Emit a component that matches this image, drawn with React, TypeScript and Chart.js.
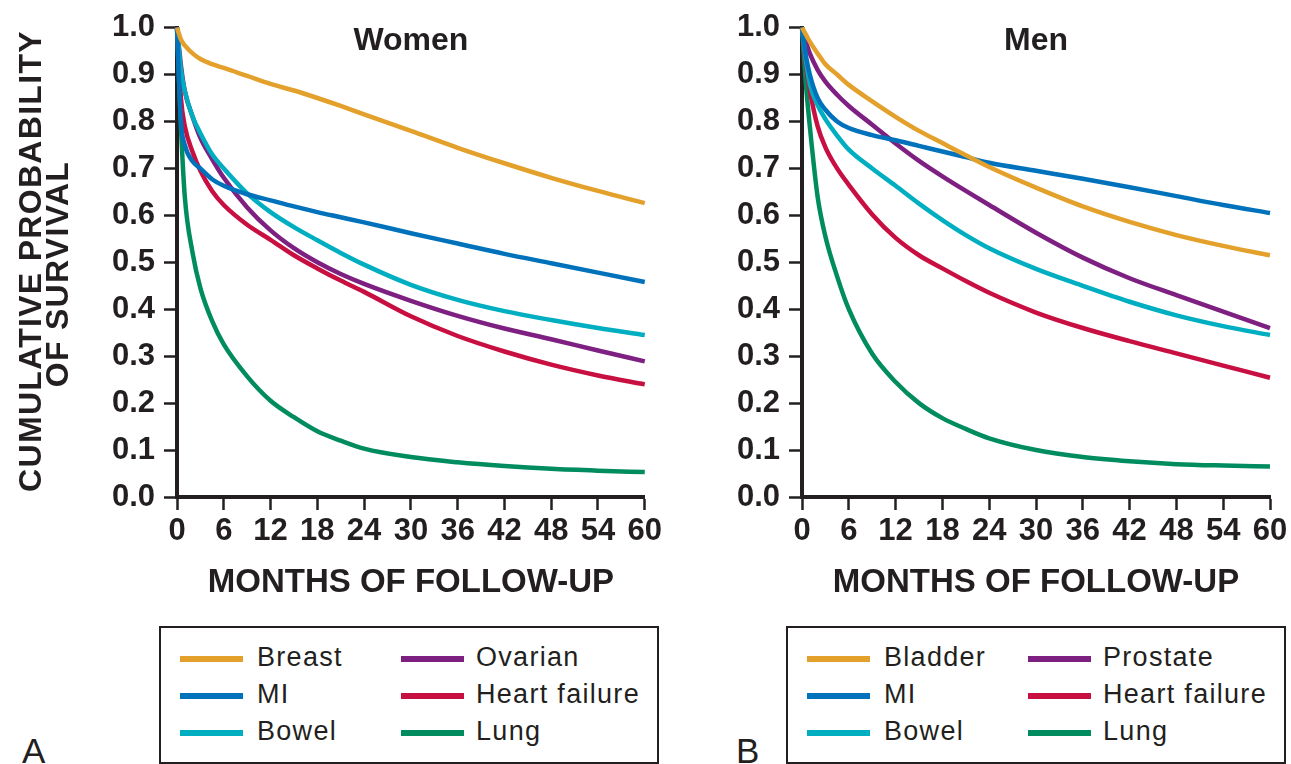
import React, { useEffect, useRef } from "react";
import { Chart, registerables } from "chart.js";

Chart.register(...registerables);

// ---------- data ----------
const months = [0, 0.5, 1, 2, 3, 4.5, 6, 9, 12, 15, 18, 21, 24, 30, 36, 42, 48, 54, 60];
const xTicks = [0, 6, 12, 18, 24, 30, 36, 42, 48, 54, 60];
const yTicks = [0, 0.1, 0.2, 0.3, 0.4, 0.5, 0.6, 0.7, 0.8, 0.9, 1.0];

// Women
const breastW = [1.0, 0.975, 0.962, 0.945, 0.933, 0.922, 0.914, 0.897, 0.88, 0.866, 0.85, 0.833, 0.815, 0.78, 0.744, 0.711, 0.68, 0.652, 0.626];
const miW = [1.0, 0.8, 0.75, 0.715, 0.7, 0.677, 0.663, 0.645, 0.632, 0.619, 0.607, 0.596, 0.585, 0.562, 0.54, 0.518, 0.498, 0.478, 0.458];
const bowelW = [1.0, 0.91, 0.865, 0.81, 0.775, 0.73, 0.7, 0.647, 0.607, 0.575, 0.547, 0.52, 0.495, 0.452, 0.42, 0.396, 0.377, 0.36, 0.345];
const ovarianW = [1.0, 0.92, 0.865, 0.81, 0.765, 0.72, 0.68, 0.617, 0.568, 0.53, 0.5, 0.475, 0.454, 0.418, 0.386, 0.359, 0.336, 0.312, 0.289];
const heartFailureW = [1.0, 0.85, 0.79, 0.735, 0.695, 0.652, 0.622, 0.58, 0.548, 0.515, 0.487, 0.461, 0.437, 0.385, 0.343, 0.31, 0.282, 0.259, 0.24];
const lungW = [1.0, 0.79, 0.64, 0.52, 0.445, 0.375, 0.325, 0.257, 0.205, 0.17, 0.14, 0.12, 0.103, 0.085, 0.074, 0.066, 0.06, 0.056, 0.053];

// Men
const bladderM = [1.0, 0.985, 0.97, 0.945, 0.922, 0.9, 0.878, 0.843, 0.81, 0.78, 0.754, 0.728, 0.703, 0.659, 0.619, 0.586, 0.558, 0.535, 0.515];
const miM = [1.0, 0.94, 0.9, 0.85, 0.825, 0.8, 0.786, 0.771, 0.76, 0.748, 0.736, 0.724, 0.712, 0.695, 0.678, 0.66, 0.641, 0.622, 0.605];
const bowelM = [1.0, 0.93, 0.88, 0.835, 0.805, 0.77, 0.74, 0.7, 0.663, 0.625, 0.59, 0.558, 0.53, 0.486, 0.45, 0.416, 0.387, 0.364, 0.345];
const prostateM = [1.0, 0.97, 0.945, 0.91, 0.885, 0.857, 0.833, 0.793, 0.753, 0.716, 0.683, 0.652, 0.622, 0.563, 0.51, 0.466, 0.43, 0.395, 0.36];
const heartFailureM = [1.0, 0.92, 0.867, 0.79, 0.745, 0.7, 0.665, 0.602, 0.552, 0.515, 0.487, 0.46, 0.435, 0.393, 0.36, 0.332, 0.306, 0.28, 0.254];
const lungM = [1.0, 0.88, 0.79, 0.64, 0.555, 0.47, 0.4, 0.305, 0.245, 0.2, 0.168, 0.145, 0.125, 0.1, 0.085, 0.076, 0.07, 0.067, 0.065];

const womenLabels = ["Breast", "MI", "Bowel", "Ovarian", "Heart failure", "Lung"];
const menLabels = ["Bladder", "MI", "Bowel", "Prostate", "Heart failure", "Lung"];

// ---------- styles ----------
const INK = "#231f20";
const FONT = '"Liberation Sans", Arial, Helvetica, sans-serif';
const seriesColors = ["#E3A02A", "#0072BB", "#00AEC1", "#7D2082", "#C80F41", "#008C5F"];

type Series = { label: string; values: number[]; color: string };

const womenSeries: Series[] = [
  { label: womenLabels[0], values: breastW, color: seriesColors[0] },
  { label: womenLabels[1], values: miW, color: seriesColors[1] },
  { label: womenLabels[2], values: bowelW, color: seriesColors[2] },
  { label: womenLabels[3], values: ovarianW, color: seriesColors[3] },
  { label: womenLabels[4], values: heartFailureW, color: seriesColors[4] },
  { label: womenLabels[5], values: lungW, color: seriesColors[5] },
];
const menSeries: Series[] = [
  { label: menLabels[0], values: bladderM, color: seriesColors[0] },
  { label: menLabels[1], values: miM, color: seriesColors[1] },
  { label: menLabels[2], values: bowelM, color: seriesColors[2] },
  { label: menLabels[3], values: prostateM, color: seriesColors[3] },
  { label: menLabels[4], values: heartFailureM, color: seriesColors[4] },
  { label: menLabels[5], values: lungM, color: seriesColors[5] },
];

const panelTitlePlugin = {
  id: "panelTitle",
  afterDraw(chart: any, _args: any, opts: any) {
    const { ctx, chartArea } = chart;
    ctx.save();
    ctx.font = `bold 32px ${FONT}`;
    ctx.fillStyle = INK;
    ctx.textAlign = "center";
    ctx.textBaseline = "middle";
    ctx.fillText(opts.text, (chartArea.left + chartArea.right) / 2, 41);
    ctx.restore();
  },
};

const PLOT_BOTTOM = 497;

function Panel(props: {
  left: number;
  width: number;
  height: number;
  title: string;
  series: Series[];
  yWidth: number;
  padRight: number;
}) {
  const { left, width, height, title, series, yWidth, padRight } = props;
  const ref = useRef<HTMLCanvasElement>(null);
  useEffect(() => {
    const tickFont = { family: FONT, size: 31, weight: "bold" as const };
    const chart = new Chart(ref.current as HTMLCanvasElement, {
      type: "line",
      data: {
        datasets: series.map((s) => ({
          label: s.label,
          data: months.map((m, i) => ({ x: m, y: s.values[i] })),
          borderColor: s.color,
          backgroundColor: s.color,
          borderWidth: 4.5,
          pointRadius: 0,
          cubicInterpolationMode: "monotone" as const,
          fill: false,
          clip: false as any,
        })),
      },
      options: {
        responsive: false,
        animation: false,
        devicePixelRatio: 1,
        layout: { padding: { top: 23, right: padRight, bottom: 0, left: 0 } },
        plugins: {
          legend: { display: false },
          tooltip: { enabled: false },
          // @ts-ignore
          panelTitle: { text: title },
        },
        scales: {
          x: {
            type: "linear",
            min: 0,
            max: 60,
            afterBuildTicks: (scale: any) => {
              scale.ticks = xTicks.map((value) => ({ value }));
            },
            afterFit: (scale: any) => {
              scale.height = height - PLOT_BOTTOM;
            },
            ticks: {
              font: tickFont,
              color: INK,
              padding: 3,
              maxRotation: 0,
              autoSkip: false,
              callback: (v: any) => String(v),
            },
            grid: {
              display: true,
              drawOnChartArea: false,
              drawTicks: true,
              tickLength: 13,
              tickWidth: 2.5,
              tickColor: INK,
              color: INK,
            },
            border: { display: true, color: INK, width: 4 },
            title: {
              display: true,
              text: "MONTHS OF FOLLOW-UP",
              color: INK,
              font: { family: FONT, size: 33, weight: "bold" as const, lineHeight: 1.2 },
              padding: { top: 0, bottom: 7 },
            },
          },
          y: {
            type: "linear",
            min: 0,
            max: 1,
            afterBuildTicks: (scale: any) => {
              scale.ticks = yTicks.map((value) => ({ value }));
            },
            afterFit: (scale: any) => {
              scale.width = yWidth;
            },
            ticks: {
              font: tickFont,
              color: INK,
              padding: 9,
              autoSkip: false,
              callback: (v: any) => Number(v).toFixed(1),
            },
            grid: {
              display: true,
              drawOnChartArea: false,
              drawTicks: true,
              tickLength: 13,
              tickWidth: 2.5,
              tickColor: INK,
              color: INK,
            },
            border: { display: true, color: INK, width: 4 },
            title: { display: false },
          },
        },
      } as any,
      plugins: [panelTitlePlugin],
    });
    return () => chart.destroy();
  }, []);
  return (
    <canvas
      ref={ref}
      width={width}
      height={height}
      style={{ position: "absolute", left, top: 0, width, height }}
    />
  );
}

function LegendBox(props: { left: number; labels: string[] }) {
  const { left, labels } = props;
  const colX = [
    { sw: 19, tx: 96 },
    { sw: 240, tx: 315 },
  ];
  const items = labels.map((label, i) => {
    const col = Math.floor(i / 3);
    const row = i % 3;
    return { label, color: seriesColors[i], col, row };
  });
  return (
    <div
      style={{
        position: "absolute",
        left,
        top: 626,
        width: 500,
        height: 138,
        border: `2px solid ${INK}`,
        boxSizing: "border-box",
      }}
    >
      {items.map((it) => (
        <React.Fragment key={it.label + it.col}>
          <div
            style={{
              position: "absolute",
              left: colX[it.col].sw,
              top: 28 + it.row * 37,
              width: 63,
              height: 6,
              background: it.color,
            }}
          />
          <div
            style={{
              position: "absolute",
              left: colX[it.col].tx,
              top: 16 + it.row * 37,
              font: `27px ${FONT}`,
              lineHeight: "27px",
              letterSpacing: "1.3px",
              color: INK,
              whiteSpace: "nowrap",
            }}
          >
            {it.label}
          </div>
        </React.Fragment>
      ))}
    </div>
  );
}

function RotatedLine(props: { text: string; cx: number; cy: number }) {
  const W = 520;
  const H = 30;
  return (
    <div
      style={{
        position: "absolute",
        left: props.cx - W / 2,
        top: props.cy - H / 2,
        width: W,
        height: H,
        lineHeight: `${H}px`,
        textAlign: "center",
        font: `bold 32px ${FONT}`,
        letterSpacing: "1.3px",
        color: INK,
        whiteSpace: "nowrap",
        transform: "rotate(-90deg)",
        transformOrigin: "50% 50%",
      }}
    >
      {props.text}
    </div>
  );
}

export default function App() {
  return (
    <div
      style={{
        position: "fixed",
        left: 0,
        top: 0,
        width: 1291,
        height: 764,
        background: "#ffffff",
        overflow: "hidden",
      }}
    >
      <Panel left={0} width={665} height={610} title="Women" series={womenSeries} yWidth={177} padRight={20} />
      <Panel left={660} width={631} height={610} title="Men" series={menSeries} yWidth={142} padRight={21} />
      <RotatedLine text="CUMULATIVE PROBABILITY" cx={27} cy={261} />
      <RotatedLine text="OF SURVIVAL" cx={54} cy={274} />
      <LegendBox left={159} labels={womenLabels} />
      <LegendBox left={786} labels={menLabels} />
      <div style={{ position: "absolute", left: 22, top: 733, font: `35px ${FONT}`, lineHeight: "35px", color: INK }}>
        A
      </div>
      <div style={{ position: "absolute", left: 736, top: 733, font: `35px ${FONT}`, lineHeight: "35px", color: INK }}>
        B
      </div>
    </div>
  );
}
